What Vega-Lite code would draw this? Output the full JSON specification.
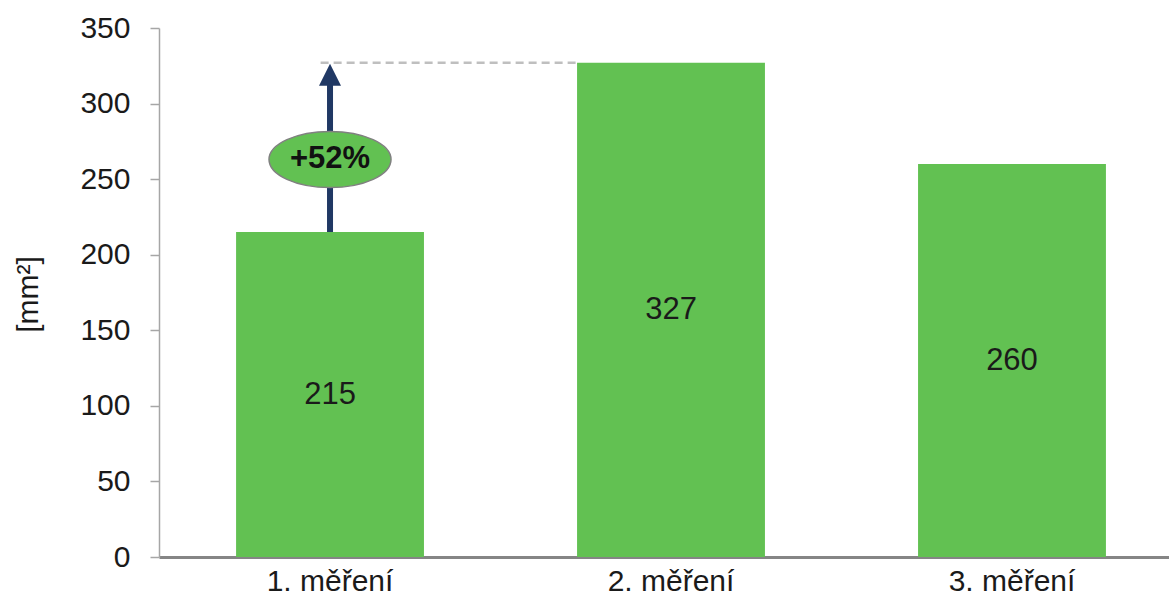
{
  "$schema": "https://vega.github.io/schema/vega-lite/v6.json",
  "width": 1010,
  "height": 529,
  "autosize": {"type": "none"},
  "padding": {"left": 159, "top": 28, "right": 0, "bottom": 45},
  "background": "#ffffff",
  "config": {"view": {"stroke": null}, "font": "Liberation Sans"},
  "datasets": {
    "bars": [
      {"cat": "1. měření", "value": 215},
      {"cat": "2. měření", "value": 327},
      {"cat": "3. měření", "value": 260}
    ],
    "arrow": [{"cat": "1. měření", "from": 215, "to": 315, "head": 319}],
    "dash": [{"from": "1. měření", "to": "2. měření", "value": 327}],
    "badge": [{"cat": "1. měření", "value": 263, "label": "+52%"}]
  },
  "resolve": {"scale": {"y": "independent"}},
  "layer": [
    {
      "data": {"name": "bars"},
      "mark": {"type": "bar", "color": "#62C152"},
      "encoding": {
        "x": {
          "field": "cat", "type": "nominal", "sort": null,
          "scale": {"paddingInner": 0.449, "paddingOuter": 0.2055, "align": 0.55},
          "axis": {
            "title": null, "labelAngle": 0, "ticks": false,
            "domainColor": "#858585", "domainWidth": 3,
            "labelFont": "Liberation Sans", "labelFontSize": 30, "labelColor": "#1a1a1a",
            "labelPadding": 9
          }
        },
        "y": {
          "field": "value", "type": "quantitative",
          "scale": {"domain": [0, 350], "nice": false},
          "axis": {
            "title": "[mm²]", "grid": false, "values": [0, 50, 100, 150, 200, 250, 300, 350],
            "domainColor": "#a6a6a6", "domainWidth": 1.5,
            "tickColor": "#a6a6a6", "tickSize": 9, "tickWidth": 1.5,
            "labelFont": "Liberation Sans", "labelFontSize": 30, "labelColor": "#1a1a1a",
            "labelPadding": 20,
            "titleFont": "Liberation Sans", "titleFontSize": 30, "titleFontWeight": "normal",
            "titleColor": "#1a1a1a", "titleAngle": -90, "titleX": -131, "titleY": 266,
            "titleAlign": "center", "titleBaseline": "middle"
          }
        }
      }
    },
    {
      "data": {"name": "dash"},
      "mark": {"type": "rule", "color": "#BFBFBF", "strokeWidth": 2.5, "strokeDash": [8, 5]},
      "encoding": {
        "x": {"field": "from", "type": "nominal", "sort": null, "bandPosition": 0.45},
        "x2": {"field": "to", "bandPosition": 0},
        "y": {"field": "value", "type": "quantitative", "scale": {"domain": [0, 350], "nice": false}, "axis": null}
      }
    },
    {
      "data": {"name": "arrow"},
      "mark": {"type": "rule", "color": "#203864", "strokeWidth": 6},
      "encoding": {
        "x": {"field": "cat", "type": "nominal", "sort": null},
        "y": {"field": "from", "type": "quantitative", "scale": {"domain": [0, 350], "nice": false}, "axis": null},
        "y2": {"field": "to"}
      }
    },
    {
      "data": {"name": "arrow"},
      "mark": {"type": "point", "shape": "M0,-1L1,1L-1,1Z", "size": 484, "filled": true, "color": "#203864", "opacity": 1},
      "encoding": {
        "x": {"field": "cat", "type": "nominal", "sort": null},
        "y": {"field": "head", "type": "quantitative", "scale": {"domain": [0, 350], "nice": false}, "axis": null}
      }
    },
    {
      "data": {"name": "badge"},
      "mark": {"type": "point", "shape": "M-1,0A1,0.46,0,1,1,1,0A1,0.46,0,1,1,-1,0Z", "size": 14884, "filled": true, "fill": "#62C152", "stroke": "#808080", "strokeWidth": 1.5, "opacity": 1},
      "encoding": {
        "x": {"field": "cat", "type": "nominal", "sort": null},
        "y": {"field": "value", "type": "quantitative", "scale": {"domain": [0, 350], "nice": false}, "axis": null}
      }
    },
    {
      "data": {"name": "badge"},
      "mark": {"type": "text", "font": "Liberation Sans", "fontSize": 31, "fontWeight": "bold", "color": "#111111", "baseline": "middle", "align": "center"},
      "encoding": {
        "x": {"field": "cat", "type": "nominal", "sort": null},
        "y": {"field": "value", "type": "quantitative", "scale": {"domain": [0, 350], "nice": false}, "axis": null},
        "text": {"field": "label"}
      }
    },
    {
      "data": {"name": "bars"},
      "mark": {"type": "text", "font": "Liberation Sans", "fontSize": 31, "color": "#1a1a1a", "baseline": "middle", "align": "center"},
      "encoding": {
        "x": {"field": "cat", "type": "nominal", "sort": null},
        "y": {"field": "value", "type": "quantitative", "scale": {"domain": [0, 700], "nice": false}, "axis": null},
        "text": {"field": "value", "type": "quantitative"}
      }
    }
  ]
}
